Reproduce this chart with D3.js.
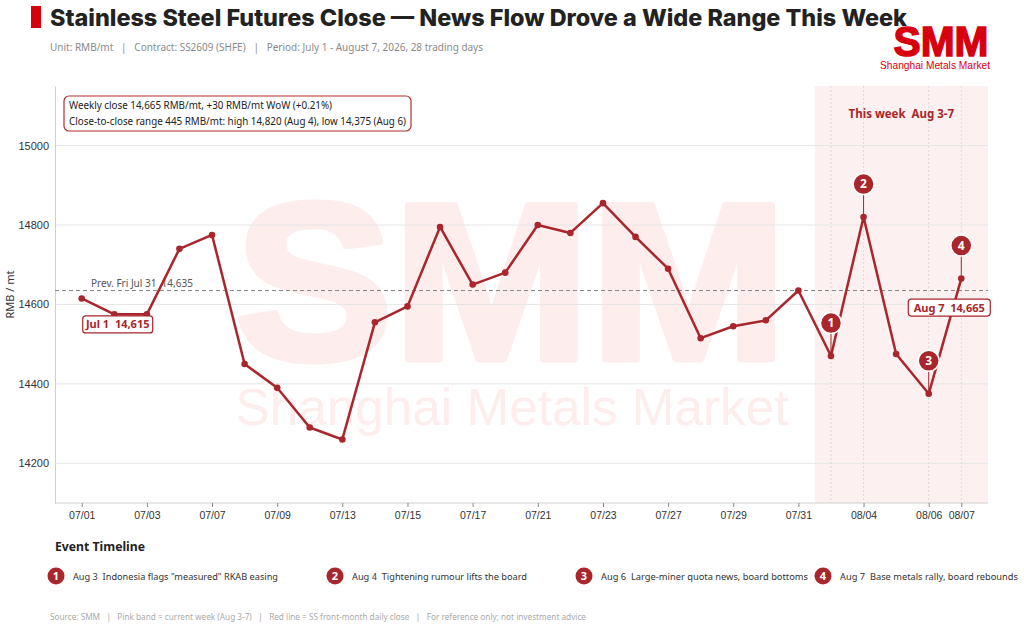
<!DOCTYPE html>
<html>
<head>
<meta charset="utf-8">
<script src="https://cdn.jsdelivr.net/npm/d3@7"></script>
<style>
  html, body { margin: 0; padding: 0; background: #fff; }
  svg { display: block; font-family: "Noto Sans", "DejaVu Sans", sans-serif; }
</style>
</head>
<body>
<div id="chart"></div>
<script>
// SS2609 daily closes, Jul 1 - Aug 7 2026
const dates = ['07/01','07/02','07/03','07/06','07/07','07/08','07/09','07/10','07/13','07/14',
  '07/15','07/16','07/17','07/20','07/21','07/22','07/23','07/24','07/27','07/28',
  '07/29','07/30','07/31','08/03','08/04','08/05','08/06','08/07'];
const closes = [14615, 14575, 14575, 14740, 14775, 14450, 14390, 14290, 14260, 14555,
  14595, 14795, 14650, 14680, 14800, 14780, 14855, 14770, 14690, 14515,
  14545, 14560, 14635, 14470, 14820, 14475, 14375, 14665];
const tickDates = ['07/01','07/03','07/07','07/09','07/13','07/15','07/17','07/21','07/23',
  '07/27','07/29','07/31','08/04','08/06','08/07'];
const yTicks = [14200, 14400, 14600, 14800, 15000];
const weekDates = ['08/03','08/04','08/05','08/06','08/07'];
const prevClose = 14635;
const eventDates = ['08/03','08/04','08/06','08/07'];
const eventTexts = [
  'Aug 3  Indonesia flags "measured" RKAB easing',
  'Aug 4  Tightening rumour lifts the board',
  'Aug 6  Large-miner quota news, board bottoms',
  'Aug 7  Base metals rally, board rebounds'
];

const W = 1024, H = 629;
const margin = { top: 86, right: 36, bottom: 126, left: 55 };
const red = '#a8262c';
const brand = '#d7000f';

const svg = d3.select('#chart').append('svg')
  .attr('width', W).attr('height', H);

const x = d3.scalePoint()
  .domain(dates)
  .range([margin.left, W - margin.right])
  .padding(0.82);

const y = d3.scaleLinear()
  .domain([14100, 15150])
  .range([H - margin.bottom, margin.top]);

const data = dates.map((d, i) => ({ date: d, value: closes[i] }));
const byDate = new Map(data.map(d => [d.date, d]));

// Header
svg.append('rect').attr('x', 31).attr('y', 6).attr('width', 10).attr('height', 22).attr('fill', brand);
svg.append('text')
  .attr('x', 50).attr('y', 26)
  .style('font-family', 'Inter, "Noto Sans", sans-serif')
  .style('font-size', '23px').style('font-weight', 800).attr('fill', '#222')
  .attr('textLength', 857).attr('lengthAdjust', 'spacingAndGlyphs')
  .text('Stainless Steel Futures Close \u2014 News Flow Drove a Wide Range This Week');
svg.append('text')
  .attr('x', 50).attr('y', 51)
  .style('font-size', '10.5px').attr('fill', '#8a8a8a')
  .attr('xml:space', 'preserve')
  .attr('textLength', 433).attr('lengthAdjust', 'spacingAndGlyphs')
  .text('Unit: RMB/mt   |   Contract: SS2609 (SHFE)   |   Period: July 1 - August 7, 2026, 28 trading days');

// SMM logo
svg.append('text')
  .attr('x', 941).attr('y', 56).attr('text-anchor', 'middle')
  .style('font-family', '"Liberation Sans", Arial, sans-serif')
  .style('font-size', '42px').style('font-weight', 900)
  .attr('textLength', 95).attr('lengthAdjust', 'spacingAndGlyphs')
  .attr('fill', brand).attr('stroke', brand).attr('stroke-width', 1.5)
  .text('SMM');
svg.append('text')
  .attr('x', 935).attr('y', 69).attr('text-anchor', 'middle')
  .style('font-family', '"Liberation Sans", Arial, sans-serif')
  .style('font-size', '11px').attr('fill', brand)
  .attr('textLength', 110).attr('lengthAdjust', 'spacingAndGlyphs')
  .text('Shanghai Metals Market');

// Current week band
const step = x.step();
const bandX0 = x(weekDates[0]) - step / 2;
const bandX1 = W - margin.right;
svg.append('rect')
  .attr('x', bandX0).attr('y', margin.top)
  .attr('width', bandX1 - bandX0).attr('height', H - margin.bottom - margin.top)
  .attr('fill', '#fcf0f0');

// Watermark
svg.append('text')
  .attr('x', 511).attr('y', 359).attr('text-anchor', 'middle')
  .style('font-family', '"Liberation Sans", Arial, sans-serif')
  .style('font-size', '222px').style('font-weight', 900)
  .attr('textLength', 552).attr('lengthAdjust', 'spacingAndGlyphs')
  .attr('fill', '#fdeded').attr('stroke', '#fdeded').attr('stroke-width', 7)
  .attr('stroke-linejoin', 'round')
  .text('SMM');
svg.append('text')
  .attr('x', 512).attr('y', 425).attr('text-anchor', 'middle')
  .style('font-family', '"Liberation Sans", Arial, sans-serif')
  .style('font-size', '52px')
  .attr('textLength', 553).attr('lengthAdjust', 'spacingAndGlyphs')
  .attr('fill', '#fdeded').text('Shanghai Metals Market');

// Grid lines
svg.append('g')
  .selectAll('line').data(yTicks).join('line')
  .attr('x1', margin.left).attr('x2', W - margin.right)
  .attr('y1', d => y(d)).attr('y2', d => y(d))
  .attr('stroke', '#e6e6e6').attr('stroke-width', 1);

svg.append('g')
  .selectAll('line').data(eventDates).join('line')
  .attr('x1', d => x(d)).attr('x2', d => x(d))
  .attr('y1', margin.top).attr('y2', H - margin.bottom)
  .attr('stroke', '#dcdcdc').attr('stroke-dasharray', '2,2');

// Axes
const yAxis = svg.append('g')
  .attr('transform', `translate(${margin.left},0)`)
  .call(d3.axisLeft(y).tickValues(yTicks).tickSize(0).tickPadding(6).tickFormat(d3.format('d')));
yAxis.select('.domain').attr('stroke', '#cfcfcf');
yAxis.selectAll('text').style('font-size', '11px').attr('fill', '#333');

const xAxis = svg.append('g')
  .attr('transform', `translate(0,${H - margin.bottom})`)
  .call(d3.axisBottom(x).tickValues(tickDates).tickSize(4).tickSizeOuter(0).tickPadding(5));
xAxis.select('.domain').attr('stroke', '#cfcfcf').attr('d', `M${margin.left},0H${W - margin.right}`);
xAxis.selectAll('.tick line').attr('stroke', '#888');
xAxis.selectAll('text').style('font-size', '10.5px').attr('fill', '#333');

svg.append('text')
  .attr('transform', `translate(14,${(margin.top + H - margin.bottom) / 2}) rotate(-90)`)
  .attr('text-anchor', 'middle')
  .style('font-size', '11px').attr('fill', '#333')
  .text('RMB / mt');

// Previous Friday reference
svg.append('line')
  .attr('x1', margin.left).attr('x2', W - margin.right)
  .attr('y1', y(prevClose)).attr('y2', y(prevClose))
  .attr('stroke', '#888').attr('stroke-dasharray', '4,3');
svg.append('text')
  .attr('x', 91).attr('y', y(prevClose) - 4)
  .style('font-size', '10px').attr('fill', '#555')
  .attr('xml:space', 'preserve')
  .text('Prev. Fri Jul 31  ' + d3.format(',')(prevClose));

// Line and points
const line = d3.line().x(d => x(d.date)).y(d => y(d.value));
svg.append('path')
  .datum(data)
  .attr('fill', 'none').attr('stroke', red)
  .attr('stroke-width', 2.5).attr('stroke-linejoin', 'round')
  .attr('d', line);
svg.append('g')
  .selectAll('circle').data(data).join('circle')
  .attr('cx', d => x(d.date)).attr('cy', d => y(d.value))
  .attr('r', 3.3).attr('fill', red);

// Event markers
const ev = svg.append('g')
  .selectAll('g').data(eventDates).join('g')
  .attr('transform', d => `translate(${x(d)},${y(byDate.get(d).value)})`);
ev.append('line')
  .attr('x1', 0).attr('x2', 0).attr('y1', -23).attr('y2', -3)
  .attr('stroke', red).attr('stroke-width', 1);
ev.append('circle')
  .attr('cy', -33).attr('r', 10.5)
  .attr('fill', red).attr('stroke', '#fff').attr('stroke-width', 1.5);
ev.append('text')
  .attr('y', -29).attr('text-anchor', 'middle')
  .style('font-size', '12px').style('font-weight', 700).attr('fill', '#fff')
  .text((d, i) => i + 1);

// Value callouts
function callout(d, dx, dy, w) {
  const cx = x(d.date) + dx, cy = y(d.value) + dy;
  const [m, dd] = d.date.split('/');
  const label = (m === '07' ? 'Jul ' : 'Aug ') + (+dd) + '  ' + d3.format(',')(d.value);
  svg.append('rect')
    .attr('x', cx - w / 2).attr('y', cy - 8.5).attr('width', w).attr('height', 17)
    .attr('rx', 3).attr('fill', '#fff').attr('stroke', red).attr('stroke-width', 1.2);
  svg.append('text')
    .attr('x', cx).attr('y', cy + 4).attr('text-anchor', 'middle')
    .attr('xml:space', 'preserve')
    .style('font-size', '11px').style('font-weight', 700).attr('fill', red)
    .text(label);
}
callout(data[0], 36, 26, 70);
callout(data[data.length - 1], -12, 29, 82);

// Weekly summary box
svg.append('rect')
  .attr('x', 64).attr('y', 96).attr('width', 347).attr('height', 35)
  .attr('rx', 5).attr('fill', '#fff').attr('stroke', '#b03030').attr('stroke-width', 1.2);
svg.append('text').attr('x', 69).attr('y', 109)
  .style('font-size', '10px').attr('fill', '#222')
  .attr('textLength', 263).attr('lengthAdjust', 'spacingAndGlyphs')
  .text('Weekly close 14,665 RMB/mt, +30 RMB/mt WoW (+0.21%)');
svg.append('text').attr('x', 69).attr('y', 125)
  .style('font-size', '10px').attr('fill', '#222')
  .attr('textLength', 337).attr('lengthAdjust', 'spacingAndGlyphs')
  .text('Close-to-close range 445 RMB/mt: high 14,820 (Aug 4), low 14,375 (Aug 6)');

svg.append('text')
  .attr('x', (bandX0 + bandX1) / 2 + 0).attr('y', 118).attr('text-anchor', 'middle')
  .attr('xml:space', 'preserve')
  .style('font-size', '11.5px').style('font-weight', 700).attr('fill', red)
  .text('This week  Aug 3-7');

// Event timeline
svg.append('text')
  .attr('x', 55).attr('y', 551)
  .style('font-size', '13px').style('font-weight', 700).attr('fill', '#222')
  .attr('textLength', 90).attr('lengthAdjust', 'spacingAndGlyphs')
  .text('Event Timeline');
const itemX = [56, 335, 584, 823];
const itemLen = [205, 175, 207, 178];
const items = svg.append('g')
  .selectAll('g').data(eventTexts).join('g')
  .attr('transform', (d, i) => `translate(${itemX[i]},576)`);
items.append('circle').attr('r', 8.5).attr('fill', red);
items.append('text')
  .attr('y', 4).attr('text-anchor', 'middle')
  .style('font-size', '11px').style('font-weight', 700).attr('fill', '#fff')
  .text((d, i) => i + 1);
items.append('text')
  .attr('x', 17).attr('y', 3.5)
  .attr('xml:space', 'preserve')
  .style('font-size', '9.5px').attr('fill', '#333')
  .attr('textLength', (d, i) => itemLen[i]).attr('lengthAdjust', 'spacingAndGlyphs')
  .text(d => d);

// Footer
svg.append('text')
  .attr('x', 50).attr('y', 620)
  .attr('xml:space', 'preserve')
  .style('font-size', '8.5px').attr('fill', '#aaa')
  .attr('textLength', 536).attr('lengthAdjust', 'spacingAndGlyphs')
  .text('Source: SMM   |   Pink band = current week (Aug 3-7)   |   Red line = SS front-month daily close   |   For reference only; not investment advice');
</script>
</body>
</html>
